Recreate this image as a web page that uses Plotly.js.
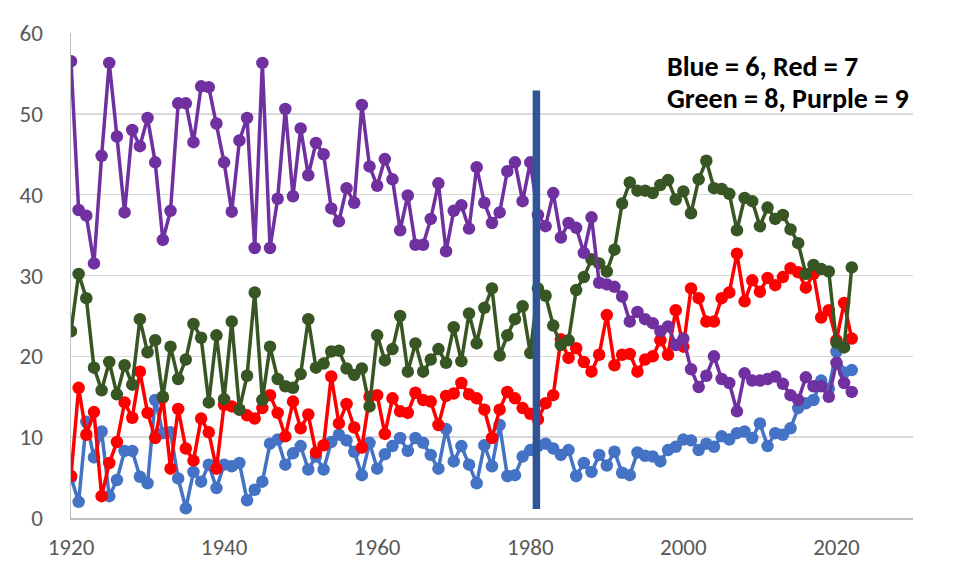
<!DOCTYPE html>
<html>
<head>
<meta charset="utf-8">
<script src="https://cdn.plot.ly/plotly-3.0.1.min.js"></script>
<style>
  html, body { margin: 0; padding: 0; background: #ffffff; }
  #chart { width: 956px; height: 577px; }
</style>
</head>
<body>
<div id="chart"></div>
<script>
// Years 1920..2022
const firstYear = 1920;
const lastYear = 2022;
const years = [];
for (let y = firstYear; y <= lastYear; y++) years.push(y);

// Blue = 6
const blue6 = [
  5.0, 2.0, 11.9, 7.5, 10.7, 2.7, 4.7, 8.3, 8.3, 5.1,
  4.3, 14.6, 10.5, 10.6, 4.9, 1.2, 5.7, 4.5, 6.6, 3.7,
  6.6, 6.4, 6.8, 2.2, 3.5, 4.5, 9.2, 9.7, 6.6, 8.0,
  8.9, 6.0, 7.6, 6.0, 9.4, 10.3, 9.6, 8.2, 5.3, 9.3,
  6.1, 7.9, 8.9, 9.9, 8.3, 9.9, 9.3, 7.8, 6.1, 11.0,
  7.0, 8.9, 6.6, 4.3, 9.0, 6.4, 11.5, 5.2, 5.3, 7.6,
  8.4, 8.9, 9.2, 8.6, 7.8, 8.4, 5.2, 6.8, 5.7, 7.8,
  6.5, 8.2, 5.6, 5.3, 8.1, 7.7, 7.6, 7.0, 8.4, 8.8,
  9.7, 9.6, 8.4, 9.2, 8.8, 10.1, 9.7, 10.5, 10.7, 9.9,
  11.7, 8.9, 10.5, 10.3, 11.1, 13.6, 14.2, 14.6, 17.0, 16.0,
  20.6, 18.0, 18.3
];

// Red = 7
const red7 = [
  5.2, 16.1, 10.3, 13.1, 2.7, 6.8, 9.4, 14.3, 12.4, 18.1,
  13.0, 9.9, 14.9, 6.1, 13.5, 8.6, 7.1, 12.3, 10.6, 6.1,
  14.0, 13.8, 13.4, 12.7, 12.3, 13.6, 15.2, 13.0, 10.1, 14.4,
  11.1, 12.8, 8.1, 9.0, 17.5, 11.7, 14.1, 11.2, 8.7, 15.0,
  15.2, 10.4, 14.8, 13.2, 13.0, 15.5, 14.6, 14.4, 11.5, 15.1,
  15.4, 16.7, 15.3, 14.8, 13.4, 9.9, 13.4, 15.6, 14.8, 13.6,
  12.9, 12.2, 14.2, 15.2, 22.1, 19.8, 21.0, 19.3, 18.1, 20.2,
  25.1, 18.9, 20.2, 20.3, 18.1, 19.6, 20.0, 22.0, 20.2, 25.7,
  21.2, 28.4, 27.2, 24.3, 24.3, 27.2, 27.9, 32.7, 26.8, 29.4,
  28.0, 29.7, 28.8, 29.8, 30.9, 30.4, 28.5, 30.2, 24.8, 25.7,
  22.0, 26.6, 22.2
];

// Green = 8
const green8 = [
  23.1, 30.2, 27.2, 18.6, 15.8, 19.3, 15.3, 18.9, 16.5, 24.6,
  20.5, 22.0, 15.0, 21.2, 17.2, 19.6, 24.0, 22.3, 14.3, 22.6,
  14.7, 24.3, 13.4, 17.6, 27.9, 14.6, 21.2, 17.2, 16.3, 16.1,
  17.8, 24.6, 18.6, 19.1, 20.6, 20.7, 18.5, 17.7, 18.5, 13.8,
  22.6, 19.5, 20.9, 25.0, 18.1, 21.6, 18.1, 19.6, 20.9, 19.2,
  23.6, 19.4, 25.3, 21.6, 26.0, 28.4, 20.1, 22.6, 24.6, 26.2,
  20.4, 28.4, 27.5, 23.8, 21.4, 22.0, 28.2, 29.8, 32.0, 31.5,
  30.5, 33.2, 38.9, 41.5, 40.5, 40.5, 40.2, 41.2, 41.8, 39.4,
  40.4, 37.7, 41.9, 44.2, 40.8, 40.7, 40.1, 35.6, 39.6, 39.2,
  36.1, 38.4, 37.0, 37.5, 35.7, 34.0, 30.2, 31.3, 30.8, 30.5,
  21.7, 21.1, 31.0
];

// Purple = 9
const purple9 = [
  56.5, 38.1, 37.4, 31.5, 44.8, 56.3, 47.2, 37.8, 48.0, 46.0,
  49.5, 44.0, 34.4, 38.0, 51.3, 51.3, 46.5, 53.4, 53.3, 48.8,
  44.0, 37.9, 46.7, 49.5, 33.4, 56.3, 33.4, 39.5, 50.6, 39.8,
  48.2, 42.4, 46.4, 45.0, 38.3, 36.7, 40.8, 39.0, 51.1, 43.5,
  41.1, 44.4, 41.9, 35.6, 39.9, 33.8, 33.8, 37.0, 41.4, 33.0,
  38.0, 38.7, 35.8, 43.4, 39.0, 36.5, 37.8, 42.9, 44.0, 39.2,
  44.0, 37.5, 36.1, 40.2, 34.7, 36.5, 35.9, 32.8, 37.2, 29.1,
  28.9, 28.6, 27.4, 24.3, 25.5, 24.6, 24.1, 23.1, 23.7, 21.4,
  22.2, 18.4, 16.2, 17.6, 20.0, 17.2, 16.7, 13.2, 17.9, 17.0,
  17.0, 17.2, 17.5, 16.6, 15.2, 14.6, 17.4, 16.3, 16.3, 15.0,
  19.2, 16.7, 15.6
];

const seriesNames = ['Blue = 6', 'Red = 7', 'Green = 8', 'Purple = 9'];
const seriesColors = ['#4472C4', '#FF0000', '#375623', '#7030A0'];
const seriesValues = [blue6, red7, green8, purple9];

// Divider line
const dividerYear = 1980.8;
const dividerRange = [1.1, 52.9];

const xTicks = [1920, 1940, 1960, 1980, 2000, 2020];
const yTicks = [0, 10, 20, 30, 40, 50, 60];

const noteLines = ['Blue = 6, Red = 7', 'Green = 8, Purple = 9'];

const traces = seriesValues.map((vals, i) => ({
  type: 'scatter',
  mode: 'lines+markers',
  name: seriesNames[i],
  x: years,
  y: vals,
  line: { color: seriesColors[i], width: 3.5 },
  marker: { color: seriesColors[i], size: 12.5 },
  hoverinfo: 'x+y'
}));

const fontFam = 'Carlito, Lato, "Liberation Sans", sans-serif';

const layout = {
  width: 956,
  height: 577,
  margin: { l: 71, r: 43, t: 33, b: 59 },
  paper_bgcolor: '#ffffff',
  plot_bgcolor: '#ffffff',
  showlegend: false,
  font: { family: fontFam, size: 23, color: '#595959' },
  xaxis: {
    range: [1920, 2030],
    tickvals: xTicks,
    ticktext: xTicks.map(String),
    showgrid: false,
    zeroline: false,
    showline: true,
    linecolor: '#BFBFBF',
    linewidth: 1.5,
    ticks: '',
    ticklabelstandoff: 8,
    tickfont: { family: fontFam, size: 23, color: '#595959' }
  },
  yaxis: {
    range: [0, 60],
    tickvals: yTicks,
    ticktext: yTicks.map(String),
    showgrid: true,
    gridcolor: '#D9D9D9',
    gridwidth: 1.5,
    zeroline: false,
    showline: true,
    linecolor: '#BFBFBF',
    linewidth: 1.5,
    ticks: '',
    ticklabelstandoff: 22,
    tickfont: { family: fontFam, size: 23, color: '#595959' }
  },
  shapes: [{
    type: 'line',
    xref: 'x', yref: 'y',
    x0: dividerYear, x1: dividerYear,
    y0: dividerRange[0], y1: dividerRange[1],
    line: { color: '#2F5597', width: 7.5 },
    layer: 'above'
  }],
  annotations: noteLines.map((t, i) => ({
    xref: 'paper', yref: 'paper',
    x: 0.7055, y: i === 0 ? 0.93 : 0.864,
    xanchor: 'left', yanchor: 'middle',
    align: 'left',
    showarrow: false,
    text: '<b>' + t + '</b>',
    font: { family: fontFam, size: 28, color: '#000000' }
  }))
};

Plotly.newPlot('chart', traces, layout, { displayModeBar: false, staticPlot: true });
</script>
</body>
</html>
